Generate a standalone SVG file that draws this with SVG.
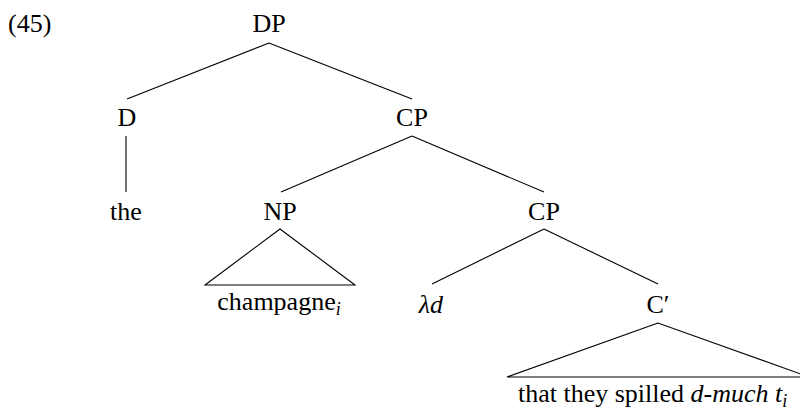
<svg xmlns="http://www.w3.org/2000/svg" width="800" height="410" viewBox="0 0 800 410">
  <style>
    text { font-family: "Liberation Serif", "Times New Roman", serif; font-size: 26px; fill: #000; text-anchor: middle; }
    .it { font-style: italic; }
    .sub { font-style: italic; font-size: 18px; }
    .edge { stroke: #000; stroke-width: 1.1; fill: none; }
  </style>
  <rect width="800" height="410" fill="#fff"/>

  <!-- example number -->
  <text x="8" y="32" style="text-anchor:start">(45)</text>

  <!-- tree branches and triangles -->
  <g id="connectors">
    <line class="edge" x1="269" y1="43" x2="127" y2="99"/>
    <line class="edge" x1="269" y1="43" x2="412" y2="99"/>
    <line class="edge" x1="126" y1="136" x2="126" y2="192"/>
    <line class="edge" x1="412" y1="136" x2="281" y2="192"/>
    <line class="edge" x1="412" y1="136" x2="544" y2="192"/>
    <polygon class="edge" points="280,229 205,285 355,285"/>
    <line class="edge" x1="544" y1="229" x2="432" y2="284"/>
    <line class="edge" x1="544" y1="229" x2="658" y2="284"/>
    <polygon class="edge" points="658,323 507,377 809,377"/>
  </g>

  <g id="DP"><text x="269" y="32">DP</text></g>
  <g id="D"><text x="127" y="126">D</text></g>
  <g id="CP1"><text x="412" y="126">CP</text></g>
  <g id="the"><text x="126" y="220">the</text></g>
  <g id="NP"><text x="280" y="220">NP</text></g>
  <g id="CP2"><text x="544" y="220">CP</text></g>
  <g id="champagne"><text x="279" y="310">champagne<tspan class="sub" dy="5">i</tspan></text></g>
  <g id="lambda"><text x="431" y="313" class="it">λd</text></g>
  <g id="Cbar"><text x="658" y="313">C′</text></g>
  <g id="clause"><text x="518" y="402" style="text-anchor:start">that they spilled <tspan class="it">d-much t</tspan><tspan class="sub" dy="5">i</tspan></text></g>
</svg>
